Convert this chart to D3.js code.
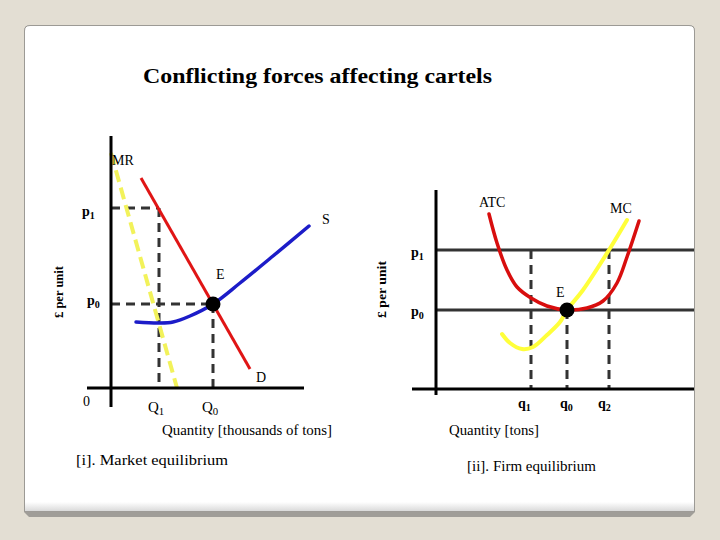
<!DOCTYPE html>
<html><head><meta charset="utf-8">
<script src="https://cdn.jsdelivr.net/npm/d3@7"></script>
<style>html,body{margin:0;padding:0;background:#e3ded3;}svg{display:block;}</style>
</head><body>
<svg id="c" width="720" height="540"></svg>
<script>
// ---------- data ----------
const title = "Conflicting forces affecting cartels";
// Market (left) – price/quantity units
const marketPrices = {p1: 90, p0: 42};
const marketQty = {Q1: 24, Q0: 51};
const demandX = [15, 69.5];
const demandY = [105, 9.5];
const mrX = [0, 33];
const mrY = [117.5, 0];
const supplyX = [12.5, 24, 31, 39.5, 51, 64.5, 81, 99];
const supplyY = [33, 32.5, 33, 36, 42, 52.5, 66, 81];
// Firm (right)
const firmPrices = {p1: 69.5, p0: 39.5};
const firmQty = {q1: 47.5, q0: 65.5, q2: 86.5};
const atcX = [26.5, 30.5, 35.5, 40.5, 47.5, 55.5, 65.5, 75.5, 83.5, 90.5, 95.5, 101.5];
const atcY = [87.5, 73, 59.5, 51, 45.5, 41.5, 39.5, 40.5, 44, 53, 66, 84];
const mcX = [33, 37, 43, 48.5, 55.5, 62, 65.5, 73.5, 86.5, 95.5];
const mcY = [27.5, 23, 20, 21, 27, 33.5, 39.5, 49.5, 69.5, 84.5];

const svg = d3.select("#c");
const FONT = "'Liberation Serif','Times New Roman',serif";

// ---------- card ----------
const defs = svg.append("defs");
const g1 = defs.append("linearGradient").attr("id","shade").attr("x1",0).attr("y1",0).attr("x2",0).attr("y2",1);
g1.append("stop").attr("offset","0").attr("stop-color","#ffffff");
g1.append("stop").attr("offset","1").attr("stop-color","#dadada");
svg.append("path")
  .attr("d","M24,512 L24,31 Q24,25 30,25 L689,25 Q695,25 695,31 L695,512 L690,517 L29,517 Z")
  .attr("fill","#a09d98");
svg.append("path")
  .attr("d","M24.5,511 L24.5,31 Q24.5,25.5 30,25.5 L689,25.5 Q694.5,25.5 694.5,31 L694.5,511 Z")
  .attr("fill","#ffffff").attr("stroke","#9c9a95").attr("stroke-width",1);
svg.append("rect").attr("x",25).attr("y",502).attr("width",669).attr("height",9).attr("fill","url(#shade)");

svg.append("text").attr("x",143).attr("y",83).attr("font-family",FONT).attr("font-weight","bold")
  .attr("font-size",21).attr("textLength",349).attr("lengthAdjust","spacingAndGlyphs").text(title);

function label(x, y, main, sub, opts={}) {
  const s = opts.size||14;
  const t = svg.append("text").attr("x",x).attr("y",y).attr("font-family",FONT)
    .attr("font-size",s).attr("font-weight",opts.weight||"bold").attr("fill","#000");
  t.append("tspan").text(main);
  if (sub !== undefined && sub !== null) t.append("tspan").attr("font-size",s*0.72).attr("dy",3).text(sub);
  return t;
}

// ---------- left: market ----------
const xL = d3.scaleLinear().domain([0,100]).range([111,311]);
const yL = d3.scaleLinear().domain([0,100]).range([388,188]);
const L = svg.append("g");
const dash = {stroke:"#333", w:3, da:"9,6"};
function dline(g,x1,y1,x2,y2){
  g.append("line").attr("x1",x1).attr("y1",y1).attr("x2",x2).attr("y2",y2)
   .attr("stroke",dash.stroke).attr("stroke-width",dash.w).attr("stroke-dasharray",dash.da);
}
dline(L, xL(0), yL(marketPrices.p1), xL(marketQty.Q1), yL(marketPrices.p1));
dline(L, xL(marketQty.Q1), yL(marketPrices.p1), xL(marketQty.Q1), yL(0));
dline(L, xL(0), yL(marketPrices.p0), xL(marketQty.Q0), yL(marketPrices.p0));
dline(L, xL(marketQty.Q0), yL(marketPrices.p0), xL(marketQty.Q0), yL(0));
// MR
L.append("line").attr("x1",xL(mrX[0])).attr("y1",yL(mrY[0])).attr("x2",xL(mrX[1])).attr("y2",yL(mrY[1]))
  .attr("stroke","#f2f25a").attr("stroke-width",4).attr("stroke-dasharray","12,6");
// axes
L.append("line").attr("x1",xL(0)).attr("y1",136).attr("x2",xL(0)).attr("y2",407).attr("stroke","#000").attr("stroke-width",3);
L.append("line").attr("x1",87).attr("y1",yL(0)).attr("x2",304).attr("y2",yL(0)).attr("stroke","#000").attr("stroke-width",3);
// D
L.append("line").attr("x1",xL(demandX[0])).attr("y1",yL(demandY[0])).attr("x2",xL(demandX[1])).attr("y2",yL(demandY[1]))
  .attr("stroke","#e01515").attr("stroke-width",3);
// S
const lineL = d3.line().x(d=>xL(d[0])).y(d=>yL(d[1])).curve(d3.curveCatmullRom);
L.append("path").attr("d",lineL(supplyX.map((x,i)=>[x,supplyY[i]]))).attr("fill","none")
  .attr("stroke","#1c1cc8").attr("stroke-width",3.5).attr("stroke-linecap","round");
L.append("circle").attr("cx",xL(marketQty.Q0)).attr("cy",yL(marketPrices.p0)).attr("r",7.5).attr("fill","#000");

label(112,165,"MR",null,{weight:"normal",size:14});
label(82,216,"p","1");
label(87,305,"p","0");
label(216,279,"E",null,{weight:"normal"});
label(322,224,"S",null,{weight:"normal"});
label(256,382,"D",null,{weight:"normal"});
label(83,406,"0",null,{weight:"normal"});
label(148,412,"Q","1",{weight:"normal",size:15});
label(202,412,"Q","0",{weight:"normal",size:15});
svg.append("text").attr("x",162).attr("y",435).attr("font-family",FONT).attr("font-size",14)
  .attr("textLength",170).attr("lengthAdjust","spacingAndGlyphs").text("Quantity [thousands of tons]");
svg.append("text").attr("transform","translate(63,318) rotate(-90)").attr("font-family",FONT).attr("font-size",13.5)
  .attr("font-weight","bold").attr("textLength",52).attr("lengthAdjust","spacingAndGlyphs").text("£ per unit");
svg.append("text").attr("x",76).attr("y",465).attr("font-family",FONT).attr("font-size",14)
  .attr("textLength",152).attr("lengthAdjust","spacingAndGlyphs").text("[i]. Market equilibrium");

// ---------- right: firm ----------
const xR = d3.scaleLinear().domain([0,100]).range([436,636]);
const yR = d3.scaleLinear().domain([0,100]).range([389,189]);
const R = svg.append("g");
dline(R, xR(firmQty.q1), yR(firmPrices.p1), xR(firmQty.q1), yR(0));
dline(R, xR(firmQty.q0), yR(firmPrices.p0), xR(firmQty.q0), yR(0));
dline(R, xR(firmQty.q2), yR(firmPrices.p1), xR(firmQty.q2), yR(0));
[firmPrices.p1, firmPrices.p0].forEach(p=>{
  R.append("line").attr("x1",xR(0)).attr("y1",yR(p)).attr("x2",694).attr("y2",yR(p)).attr("stroke","#333").attr("stroke-width",3);
});
R.append("line").attr("x1",xR(0)).attr("y1",190).attr("x2",xR(0)).attr("y2",395).attr("stroke","#000").attr("stroke-width",3);
R.append("line").attr("x1",412).attr("y1",yR(0)).attr("x2",694).attr("y2",yR(0)).attr("stroke","#000").attr("stroke-width",3);
const lineR = d3.line().x(d=>xR(d[0])).y(d=>yR(d[1])).curve(d3.curveCatmullRom);
R.append("path").attr("d",lineR(mcX.map((x,i)=>[x,mcY[i]]))).attr("fill","none")
  .attr("stroke","#ffff3a").attr("stroke-width",4).attr("stroke-linecap","round");
R.append("path").attr("d",lineR(atcX.map((x,i)=>[x,atcY[i]]))).attr("fill","none")
  .attr("stroke","#d80e0e").attr("stroke-width",3.5).attr("stroke-linecap","round");
R.append("circle").attr("cx",xR(firmQty.q0)).attr("cy",yR(firmPrices.p0)).attr("r",7.5).attr("fill","#000");

label(479,207,"ATC",null,{weight:"normal"});
label(610,213,"MC",null,{weight:"normal"});
label(411,257,"p","1");
label(411,316,"p","0");
label(556,297,"E",null,{weight:"normal"});
label(518,408,"q","1");
label(560,408,"q","0");
label(598,408,"q","2");
svg.append("text").attr("x",449).attr("y",435).attr("font-family",FONT).attr("font-size",14)
  .attr("textLength",90).attr("lengthAdjust","spacingAndGlyphs").text("Quantity [tons]");
svg.append("text").attr("transform","translate(386,318) rotate(-90)").attr("font-family",FONT).attr("font-size",13.5)
  .attr("font-weight","bold").attr("textLength",57).attr("lengthAdjust","spacingAndGlyphs").text("£ per unit");
svg.append("text").attr("x",467).attr("y",471).attr("font-family",FONT).attr("font-size",14)
  .attr("textLength",129).attr("lengthAdjust","spacingAndGlyphs").text("[ii]. Firm equilibrium");
</script>
</body></html>
